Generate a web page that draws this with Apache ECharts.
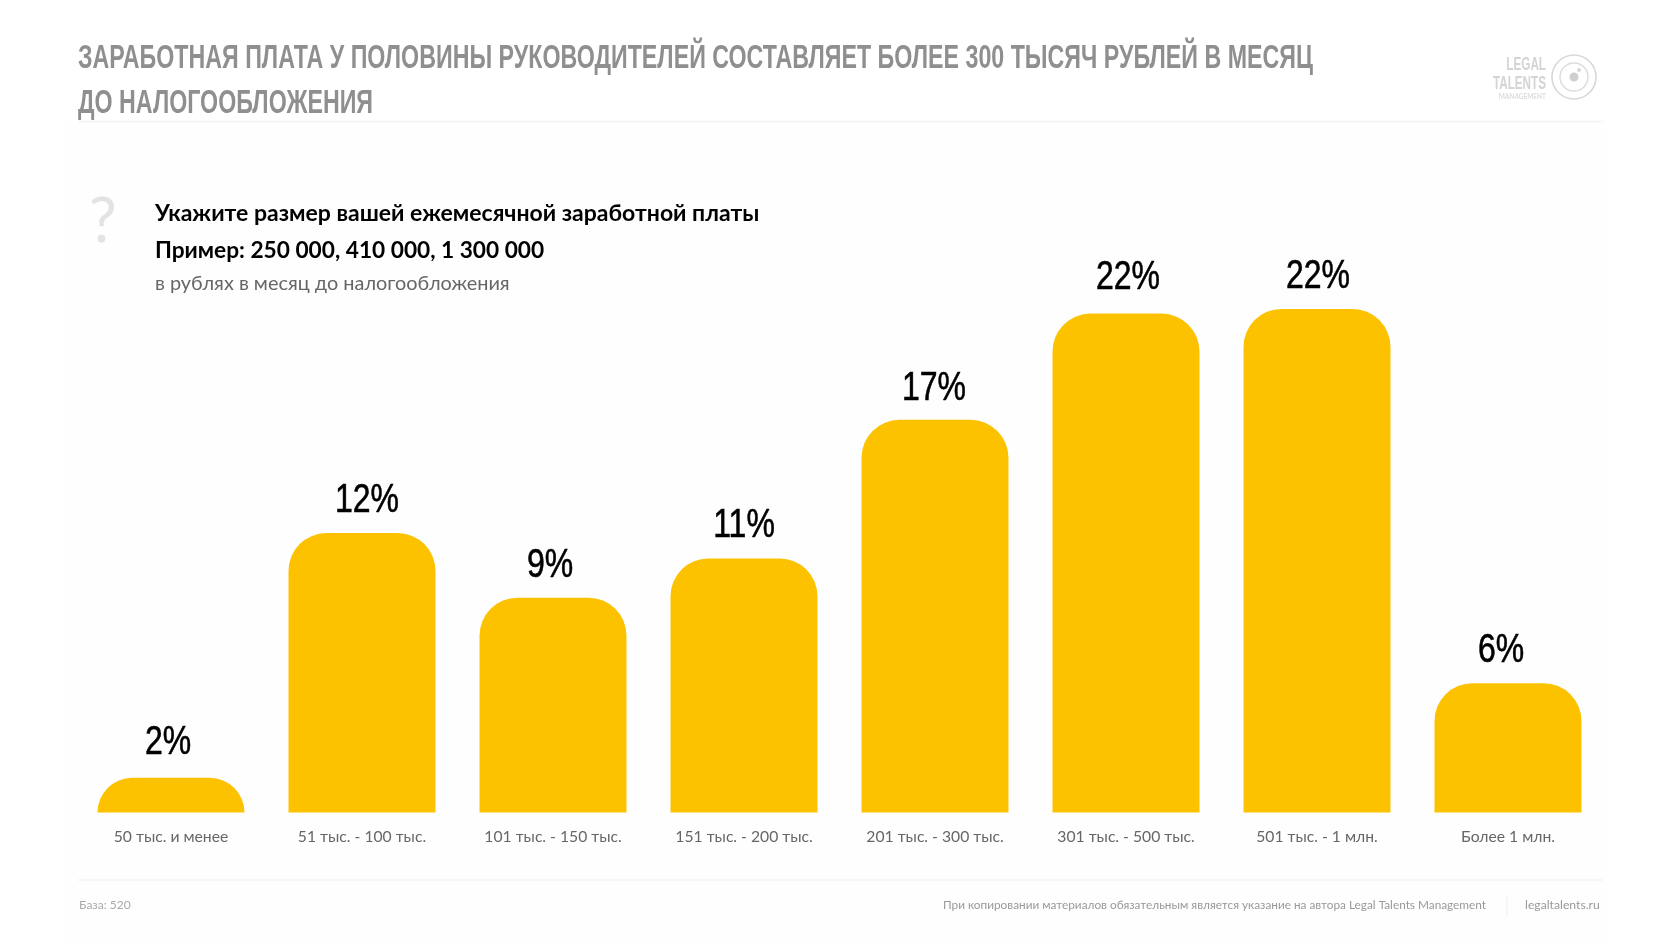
<!DOCTYPE html>
<html><head><meta charset="utf-8">
<style>html,body{margin:0;padding:0;background:#fff}#c{width:1680px;height:944px}</style>
<script src="https://cdn.jsdelivr.net/npm/echarts@6/dist/echarts.min.js"></script>
</head><body><div id="c"></div>
<script>
const categories = ['50 тыс. и менее','51 тыс. - 100 тыс.','101 тыс. - 150 тыс.','151 тыс. - 200 тыс.','201 тыс. - 300 тыс.','301 тыс. - 500 тыс.','501 тыс. - 1 млн.','Более 1 млн.'];
const values = [1.5, 12.1, 9.3, 11.0, 17.0, 21.6, 21.8, 5.6];
const labelNudgeX = [-3, 5, -3, 0, -1, 2, 1, -7];
const labelNudgeY = [-2, 0, 1, 0, 2, -3, 1, 0];
const titleLines = ['ЗАРАБОТНАЯ ПЛАТА У ПОЛОВИНЫ РУКОВОДИТЕЛЕЙ СОСТАВЛЯЕТ БОЛЕЕ 300 ТЫСЯЧ РУБЛЕЙ В МЕСЯЦ','ДО НАЛОГООБЛОЖЕНИЯ'];
const questionLines = ['Укажите размер вашей ежемесячной заработной платы','Пример: 250 000, 410 000, 1 300 000'];
const questionNote = 'в рублях в месяц до налогообложения';
const baseNote = 'База: 520';
const copyNote = 'При копировании материалов обязательным является указание на автора Legal Talents Management';
const siteNote = 'legaltalents.ru';

const NARROW = '"Liberation Sans",sans-serif';
const BODY = 'Lato,"Noto Sans",sans-serif';
const txt = (x,y,text,fontSize,fill,font,extra={},scaleX=1)=>({type:'text',x,y,scaleX,silent:true,
  style:Object.assign({text,fontSize,fill,fontFamily:font,textVerticalAlign:'middle'},extra)});
const hline=(y)=>({type:'line',shape:{x1:78,y1:y,x2:1603,y2:y},style:{stroke:'#f3f3f3',lineWidth:1.5},silent:true});
const measureCtx=document.createElement('canvas').getContext('2d');
measureCtx.font='bold 34px "Liberation Sans"';
const titleScale=1235/measureCtx.measureText(titleLines[0]).width;

const chart = echarts.init(document.getElementById('c'),null,{renderer:'canvas'});
chart.setOption({
  animation:false,
  backgroundColor:'#ffffff',
  grid:{left:75.5,width:1528,top:119.5,height:693,containLabel:false},
  xAxis:{type:'category',data:categories,axisLine:{show:false},axisTick:{show:false},
    axisLabel:{color:'#666666',fontSize:15.7,fontFamily:BODY,margin:16,interval:0}},
  yAxis:{type:'value',min:0,max:30,show:false,splitLine:{show:false}},
  series:[
   {type:'bar',barWidth:147,data:values,
    itemStyle:{color:'#FCC200',borderRadius:[38,38,0,0]}},
   {type:'custom',data:values.map((v,i)=>[i,v]),encode:{x:0,y:1},clip:false,silent:true,z:5,
    renderItem:(params,api)=>{
      const i=api.value(0),v=api.value(1),p=api.coord([i,v]);
      return {type:'text',x:p[0]+labelNudgeX[i],y:p[1]-32.5+labelNudgeY[i],scaleX:0.8,
        style:{text:Math.round(v)+'%',fontSize:40,fill:'#000',stroke:'#000',lineWidth:0.6,fontFamily:NARROW,textAlign:'center',textVerticalAlign:'middle'}};
    }}
  ],
  graphic:[
    {type:'rect',z:-10,shape:{x:62,y:122,width:1545,height:822},style:{fill:'#fefefe'},silent:true},
    txt(78,59,titleLines[0],34,'#8f8f8f',NARROW,{fontWeight:'bold'},titleScale),
    txt(78,104,titleLines[1],34,'#8f8f8f',NARROW,{fontWeight:'bold'},titleScale),
    hline(121.5),hline(880),
    {type:'line',shape:{x1:1507,y1:895,x2:1507,y2:916},style:{stroke:'#f0f0f0',lineWidth:1},silent:true},
    txt(89,222,'?',62,'#e3e3e3',BODY),
    txt(155,214,questionLines[0],23,'#000',BODY,{fontWeight:'bold'}),
    txt(155,250.5,questionLines[1],22.7,'#000',BODY,{fontWeight:'bold'}),
    txt(155,284,questionNote,19.9,'#666',BODY),
    txt(79,905,baseNote,12,'#aaa',BODY),
    txt(943,905,copyNote,11.8,'#999',BODY),
    txt(1525,905,siteNote,12.2,'#999',BODY),
    txt(1546,65,'LEGAL',18,'#d4d4d4',NARROW,{fontWeight:'bold',textAlign:'right'},0.65),
    txt(1546,84,'TALENTS',18,'#d4d4d4',NARROW,{fontWeight:'bold',textAlign:'right'},0.65),
    txt(1546,97,'MANAGEMENT',6.5,'#dcdcdc',BODY,{fontWeight:'bold',textAlign:'right'}),
    {type:'circle',shape:{cx:1574,cy:77,r:22},style:{fill:'none',stroke:'#d8d8d8',lineWidth:1.6},silent:true},
    {type:'circle',shape:{cx:1574,cy:77,r:14},style:{fill:'none',stroke:'#dcdcdc',lineWidth:1.4},silent:true},
    {type:'circle',shape:{cx:1574,cy:77,r:4.5},style:{fill:'#cfcfcf'},silent:true},
    {type:'circle',shape:{cx:1579,cy:70,r:2},style:{fill:'#d8d8d8'},silent:true}
  ]
});
</script></body></html>
